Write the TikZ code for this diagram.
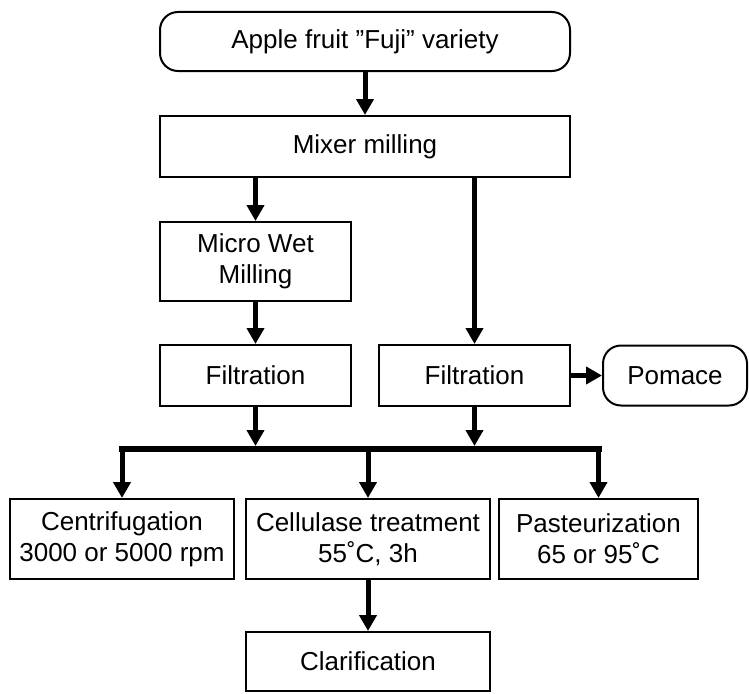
\documentclass[tikz,border=0pt]{standalone}
\usepackage{fontspec}
\setmainfont{Liberation Sans}
\usetikzlibrary{arrows.meta}
\tikzset{
  box/.style={draw=black, line width=2pt, fill=white, inner sep=0pt, align=center,
    font=\fontsize{26}{31}\selectfont},
  rbox/.style={box, rounded corners=18pt},
  arr/.style={line width=5pt, -{Triangle[length=16pt,width=17pt]}},
  bus/.style={line width=6pt, line cap=rect}
}
\begin{document}
\begin{tikzpicture}[x=1pt,y=-1pt]
\useasboundingbox (0,0) rectangle (749,693);
\node[rbox, minimum width=410pt, minimum height=59pt] (apple) at (365,41.5) {Apple fruit ”Fuji” variety};
\node[box, minimum width=410pt, minimum height=61pt] (mixer) at (365,146.5) {Mixer milling};
\node[box, minimum width=191pt, minimum height=79pt] (micro) at (255.5,261.5) {Micro Wet\\Milling};
\node[box, minimum width=191pt, minimum height=61pt] (filt1) at (255.5,375.5) {Filtration};
\node[box, minimum width=191pt, minimum height=61pt] (filt2) at (474.5,375.5) {Filtration};
\node[rbox, minimum width=144pt, minimum height=60pt] (pomace) at (675,375.5) {Pomace};
\node[box, minimum width=224pt, minimum height=80pt] (centri) at (122,539) {Centrifugation\\3000 or 5000 rpm};
\node[box, minimum width=244pt, minimum height=80pt] (cellu) at (368,539) {Cellulase treatment\\55˚C, 3h};
\node[box, minimum width=199pt, minimum height=80pt] (paste) at (598.5,539) {Pasteurization\\65 or 95˚C};
\node[box, minimum width=244pt, minimum height=59pt] (clar) at (368,661.5) {Clarification};

\coordinate (busy) at (0,449);
\coordinate (bl) at (centri.north |- busy);
\coordinate (br) at (paste.north |- busy);
\coordinate (bm) at (cellu.north |- busy);
\coordinate (t1) at (0,446);
\coordinate (f1e) at (filt1.south |- t1);
\coordinate (f2e) at (filt2.south |- t1);

\draw[arr] (apple) -- (mixer);
\draw[arr] (micro.north |- mixer.south) -- (micro.north);
\draw[arr] (filt2.north |- mixer.south) -- (filt2.north);
\draw[arr] (micro) -- (filt1);
\draw[arr] (filt2) -- (pomace);
\draw[arr] (filt1.south) -- (f1e);
\draw[arr] (filt2.south) -- (f2e);
\draw[bus] (bl) -- (br);
\draw[arr] (bl) -- (centri.north);
\draw[arr] (bm) -- (cellu.north);
\draw[arr] (br) -- (paste.north);
\draw[arr] (cellu) -- (clar);
\end{tikzpicture}
\end{document}
